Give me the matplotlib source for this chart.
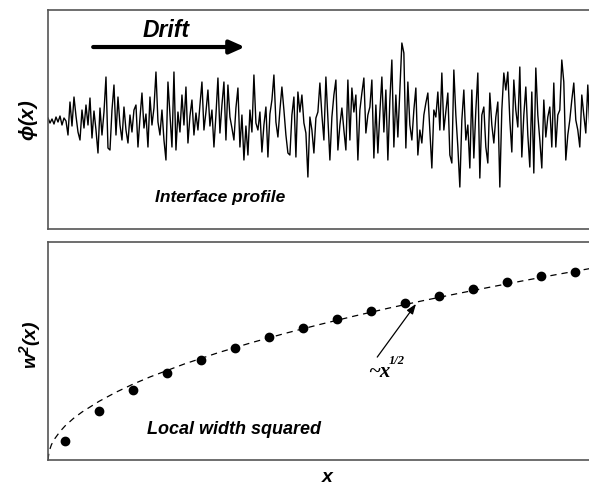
import matplotlib
matplotlib.use("Agg")
import matplotlib.pyplot as plt
import numpy as np

plt.rcParams['font.family'] = ['Liberation Sans', 'DejaVu Sans']
plt.rcParams['mathtext.fontset'] = 'custom'
plt.rcParams['mathtext.rm'] = 'Liberation Sans:bold:italic'
plt.rcParams['mathtext.it'] = 'Liberation Sans:bold:italic'

# interface height (one value per sample, centre = 0)
profile = [
    0.2, -0.3, 0.1, -0.4, 0.3, -0.2, 0.4, -0.5, 0.2, -0.1,
    -1.5, 1.8, -0.6, 2.3, 0.4, -1.2, -2.0, 1.0, -0.8, 1.5,
    -0.5, 2.2, -1.8, 0.9, -1.0, -3.3, 1.2, -1.5, 0.8, 4.3,
    -2.8, -3.0, 1.0, 3.5, -1.5, 2.3, -0.5, -2.0, 1.3, -1.0,
    -2.3, 0.5, -1.2, 1.0, 1.5, -2.7, 0.2, 2.7, -0.8, 0.6,
    -2.7, 2.3, -0.5, 1.2, 4.8, -0.2, -1.5, 1.0, -2.0, -4.0,
    3.8, 0.5, -2.7, 4.8, -3.0, 0.8, -1.2, 2.5, -0.5, 3.3,
    -2.3, 0.4, 2.0, -1.5, 0.7, -1.0, 1.5, 3.8,
    -1.0, 0.8, 3.0, -0.6, 1.0, -2.7, 0.5, 4.2, -1.3, 1.5,
    3.8, -2.0, 3.5, 0.3, -0.8, -2.0, 1.2, 3.2, -2.7, 0.5,
    -4.0, -0.6, -3.5, 1.0, -1.2, 4.5, -0.3, -1.0, 0.8, -3.2,
    -0.5, 1.3, -3.7, 0.6, 2.0, 4.5, -0.2, -1.7, 1.0,
    3.3, 1.0, -1.5, -3.3, -3.5, 0.5, 2.3, -3.7, 2.8, 0.8,
    2.5, -0.3, -1.3, -5.7, 0.3, -1.0, -3.3, 0.2, 0.8, 3.7,
    0.5, -2.0, 4.3, 0.2, -4.0, 0.3, 2.5, 4.0, -3.0, -0.5,
    1.2, -1.0, -3.0, 4.0, -2.0, 3.2, 0.8, 2.5, -4.0, 1.0,
    2.7, 4.2, -1.3, 0.5, 1.3, 4.0, -3.8, 1.5, -3.3, 0.8,
    4.3, -1.2, 3.0, -4.0, 2.0, 6.0, -2.7, 2.5, -1.7, 3.0,
    7.7, 6.7, -2.8, 3.8, -0.5, -2.0, 1.0, 3.2, -3.5, -1.0,
    -2.3, 0.5, 1.7, 2.7, -1.0, -4.8, 1.0, 0.3,
    2.8, -1.0, 4.7, -1.0, 0.8, 2.7, -3.5, -4.3, 5.0, 0.5,
    -2.7, -6.7, 0.0, 3.0, -2.0, -0.5, -4.8, 3.0, -3.8, 1.0,
    4.7, -5.8, 0.5, 1.3, -2.7, -4.3, 2.7, -0.5, -2.3, 0.3,
    1.8, -6.7, 1.0, 4.7, 3.0, 4.8, 0.0, -3.2,
    4.0, 1.0, -0.7, 5.3, -3.7, 0.5, 3.3, -1.5, -4.7, 2.8,
    -5.3, 5.2, 0.5, -2.0, -4.8, 2.0, -1.7, 0.3, 1.3, -2.7,
    3.7, -2.7, 0.5, 1.0, 6.0, 3.8, -4.0, -1.5, 0.0, 2.0,
    3.7, 0.0, -1.0, -2.7, 2.5, 0.5, -1.3, 3.5, -0.7, 1.5,
    -2.0, 2.2, -1.0, 0.8, -2.5, 1.8, 0.0,
]

# local width squared: measured points and the ~x^1/2 guide
w2_x = [0.5, 1.5, 2.5, 3.5, 4.5, 5.5, 6.5, 7.5, 8.5, 9.5, 10.5, 11.5, 12.5, 13.5, 14.5, 15.5]
w2_y = [0.87, 2.25, 3.21, 3.99, 4.59, 5.14, 5.64, 6.06, 6.47, 6.83, 7.20, 7.52, 7.84, 8.17, 8.44, 8.62]
fit_x = [0, 0.03, 0.1, 0.2, 0.35, 0.5, 0.75, 1, 1.5, 2, 2.5, 3, 4, 5, 6, 7, 8, 9,
         10, 11, 12, 13, 14, 15, 16, 16.4]
fit_y = [0, 0.38, 0.70, 0.98, 1.30, 1.56, 1.91, 2.2, 2.69, 3.11, 3.48, 3.81, 4.4,
         4.92, 5.39, 5.82, 6.22, 6.6, 6.96, 7.30, 7.62, 7.93, 8.23, 8.52, 8.8, 8.91]

fig = plt.figure(figsize=(5.89, 4.88), dpi=100)
ax1 = fig.add_axes([0.0815, 0.5307, 0.947, 0.4488])
ax2 = fig.add_axes([0.0815, 0.0574, 0.947, 0.4467])

for ax in (ax1, ax2):
    ax.set_xticks([])
    ax.set_yticks([])
    for s in ax.spines.values():
        s.set_color('#555555')
        s.set_linewidth(1.2)

# top panel
ax1.plot(np.arange(len(profile)), profile, color='black', lw=1.0)
ax1.set_xlim(0, len(profile) - 1)
ax1.set_ylim(-10.9, 11.0)
ax1.annotate('', xy=(0.353, 0.831), xytext=(0.081, 0.831), xycoords='axes fraction',
             arrowprops=dict(arrowstyle='-|>,head_length=0.9,head_width=0.4',
                             color='black', lw=3, shrinkA=0, shrinkB=0))
ax1.text(0.211, 0.905, 'Drift', transform=ax1.transAxes, ha='center', va='center',
         fontsize=16.5, fontweight='bold', fontstyle='italic')
ax1.text(0.192, 0.146, 'Interface profile', transform=ax1.transAxes, ha='left', va='center',
         fontsize=12.5, fontweight='bold', fontstyle='italic')

# bottom panel
ax2.plot(fit_x, fit_y, color='black', lw=0.9, ls=(0, (5, 4)))
ax2.plot(w2_x, w2_y, 'o', color='black', ms=6)
ax2.set_xlim(0, 16.4)
ax2.set_ylim(0, 10)
ax2.annotate('', xy=(10.82, 7.16), xytext=(9.68, 4.72),
             arrowprops=dict(arrowstyle='-|>,head_length=0.6,head_width=0.22',
                             color='black', lw=0.9, shrinkA=0, shrinkB=0))
ax2.text(9.74, 4.05, '~x', family='Liberation Serif', fontweight='bold', fontstyle='italic',
         fontsize=15, ha='center', va='center')
ax2.text(10.25, 4.55, '1/2', family='Liberation Serif', fontweight='bold', fontstyle='italic',
         fontsize=9, ha='center', va='center')
ax2.text(0.177, 0.142, 'Local width squared', transform=ax2.transAxes, ha='left', va='center',
         fontsize=13, fontweight='bold', fontstyle='italic')

fig.text(0.048, 0.754, r'$\mathregular{\phi}$(x)', rotation=90, ha='center', va='center',
         fontsize=14.5, fontweight='bold', fontstyle='italic')
fig.text(0.051, 0.293, r'w$^{\mathrm{2}}$(x)', rotation=90, ha='center', va='center',
         fontsize=14, fontweight='bold', fontstyle='italic')
fig.text(0.555, 0.0205, 'x', ha='center', va='center',
         fontsize=14, fontweight='bold', fontstyle='italic')

fig.savefig('out.png', dpi=100)
